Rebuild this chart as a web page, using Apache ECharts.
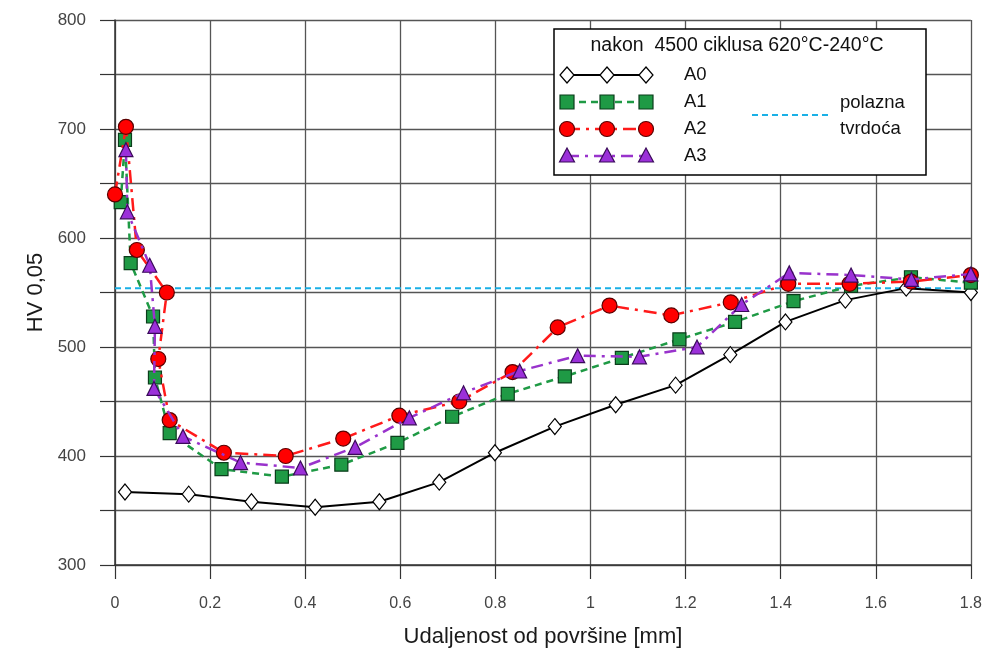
<!DOCTYPE html>
<html>
<head>
<meta charset="utf-8">
<script src="https://cdn.jsdelivr.net/npm/echarts@6/dist/echarts.min.js"></script>
<style>html,body{margin:0;padding:0;background:#fff}#c{width:985px;height:655px}</style>
</head>
<body>
<div id="c"></div>
<script>
var xA0 = [0.021, 0.155, 0.287, 0.421, 0.556, 0.682, 0.799, 0.925, 1.053, 1.179, 1.294, 1.41, 1.536, 1.664, 1.8];
var yA0 = [367, 365, 358, 353, 358, 376, 403, 427, 447, 465, 493, 523, 543, 554, 550];

var xA1 = [0.012, 0.021, 0.033, 0.080, 0.084, 0.115, 0.224, 0.351, 0.476, 0.594, 0.709, 0.826, 0.946, 1.066, 1.187, 1.304, 1.427, 1.548, 1.674, 1.8];
var yA1 = [633, 690, 577, 528, 472, 421, 388, 381, 392, 412, 436, 457, 473, 490, 507, 523, 542, 556, 564, 559];

var xA2 = [0.0, 0.023, 0.046, 0.109, 0.091, 0.115, 0.229, 0.359, 0.480, 0.598, 0.724, 0.836, 0.931, 1.040, 1.170, 1.295, 1.416, 1.545, 1.674, 1.8];
var yA2 = [640, 702, 589, 550, 489, 433, 403, 400, 416, 437, 450, 477, 518, 538, 529, 541, 558, 558, 560, 566];

var xA3 = [0.023, 0.026, 0.073, 0.084, 0.082, 0.143, 0.264, 0.390, 0.505, 0.619, 0.733, 0.851, 0.973, 1.103, 1.224, 1.318, 1.418, 1.548, 1.675, 1.8];
var yA3 = [681, 624, 575, 519, 462, 418, 394, 389, 408, 435, 458, 478, 492, 491, 500, 539, 568, 566, 562, 567];

var xBase = [0, 1.8];
var yBase = [554, 554];

var seriesNames = ['A0', 'A1', 'A2', 'A3'];
var legendTitle = 'nakon  4500 ciklusa 620°C-240°C';
var baseName = ['polazna', 'tvrdoća'];
var xAxisName = 'Udaljenost od površine [mm]';
var yAxisName = 'HV 0,05';

function pairs(xs, ys) { return xs.map(function (x, i) { return [x, ys[i]]; }); }

var FONT = '"Liberation Sans", Arial, sans-serif';
var styles = [
  {symbol: 'diamond', size: [13, 16], fill: '#ffffff', border: '#000000', line: '#000000', dash: 'solid', lw: 2},
  {symbol: 'rect', size: 13, fill: '#1f9a45', border: '#0b3d1b', line: '#1f9a45', dash: [7, 5], lw: 2.5},
  {symbol: 'circle', size: 15, fill: '#ff0000', border: '#5a0000', line: '#ff1a1a', dash: [13, 6, 3, 6], lw: 2.5},
  {symbol: 'triangle', size: 14, fill: '#9b30d9', border: '#3a0a5a', line: '#9933cc', dash: [12, 6, 3, 6], lw: 2.5}
];
var xs = [xA0, xA1, xA2, xA3], ys = [yA0, yA1, yA2, yA3];

var series = [{
  type: 'line', name: 'base', data: pairs(xBase, yBase), symbol: 'none',
  lineStyle: {color: '#19b0e6', width: 2, type: [6, 4]}, z: 1, silent: true
}];
for (var i = 0; i < 4; i++) {
  var s = styles[i];
  series.push({
    type: 'line', name: seriesNames[i], data: pairs(xs[i], ys[i]),
    symbol: s.symbol, symbolSize: s.size, showAllSymbol: true,
    itemStyle: {color: s.fill, borderColor: s.border, borderWidth: 1.2},
    lineStyle: {color: s.line, width: s.lw, type: s.dash},
    z: 2 + i
  });
}

// legend box drawn with graphic elements
var gx0 = 554, gy0 = 29, gw = 372, gh = 146;
var rowsY = [75, 102, 129, 156];
var mX = [567, 607, 646];
var graphics = [
  {type: 'rect', shape: {x: gx0, y: gy0, width: gw, height: gh}, style: {fill: '#fff', stroke: '#000', lineWidth: 1.5}, z: 100},
  {type: 'text', x: 737, y: 46, style: {text: legendTitle, font: '19.5px ' + FONT, fill: '#111', align: 'center', verticalAlign: 'middle'}, z: 101}
];
function markerShape(i, cx, cy) {
  var s = styles[i];
  var st = {fill: s.fill, stroke: s.border, lineWidth: 1.2};
  if (i === 0) return {type: 'polygon', shape: {points: [[cx, cy - 8], [cx + 7, cy], [cx, cy + 8], [cx - 7, cy]]}, style: st, z: 102};
  if (i === 1) return {type: 'rect', shape: {x: cx - 7, y: cy - 7, width: 14, height: 14}, style: st, z: 102};
  if (i === 2) return {type: 'circle', shape: {cx: cx, cy: cy, r: 7.5}, style: st, z: 102};
  return {type: 'polygon', shape: {points: [[cx, cy - 8], [cx + 7.5, cy + 6], [cx - 7.5, cy + 6]]}, style: st, z: 102};
}
for (var r = 0; r < 4; r++) {
  var s = styles[r];
  graphics.push({type: 'line', shape: {x1: mX[0], y1: rowsY[r], x2: mX[2], y2: rowsY[r]},
    style: {stroke: s.line, lineWidth: s.lw, lineDash: s.dash === 'solid' ? null : s.dash}, z: 101});
  for (var k = 0; k < 3; k++) graphics.push(markerShape(r, mX[k], rowsY[r]));
  graphics.push({type: 'text', x: 684, y: rowsY[r], style: {text: seriesNames[r], font: '18.5px ' + FONT, fill: '#111', verticalAlign: 'middle'}, z: 101});
}
graphics.push({type: 'line', shape: {x1: 752, y1: 115, x2: 828, y2: 115}, style: {stroke: '#19b0e6', lineWidth: 2, lineDash: [6, 4]}, z: 101});
graphics.push({type: 'text', x: 840, y: 103, style: {text: baseName[0], font: '18.5px ' + FONT, fill: '#111', verticalAlign: 'middle'}, z: 101});
graphics.push({type: 'text', x: 840, y: 129, style: {text: baseName[1], font: '18.5px ' + FONT, fill: '#111', verticalAlign: 'middle'}, z: 101});

var chart = echarts.init(document.getElementById('c'), null, {renderer: 'canvas'});
chart.setOption({
  animation: false,
  backgroundColor: '#ffffff',
  grid: {left: 115, right: 12, top: 20, bottom: 90, containLabel: false},
  xAxis: {
    type: 'value', min: 0, max: 1.8, interval: 0.2,
    name: xAxisName, nameLocation: 'middle', nameGap: 61,
    nameTextStyle: {fontFamily: FONT, fontSize: 22, color: '#1a1a1a'},
    axisLine: {show: true, onZero: false, lineStyle: {color: '#333', width: 1.5}},
    axisTick: {show: true, inside: false, length: 14, lineStyle: {color: '#333', width: 1.2}},
    axisLabel: {margin: 31, fontFamily: FONT, fontSize: 16, color: '#444'},
    splitLine: {show: true, lineStyle: {color: '#555', width: 1.3}}
  },
  yAxis: {
    type: 'value', min: 300, max: 800, interval: 50,
    name: yAxisName, nameLocation: 'middle', nameGap: 56,
    nameTextStyle: {fontFamily: FONT, fontSize: 22, color: '#1a1a1a'},
    axisLine: {show: true, onZero: false, lineStyle: {color: '#333', width: 1.5}},
    axisTick: {show: true, inside: false, length: 15, lineStyle: {color: '#333', width: 1.2}},
    axisLabel: {margin: 29, fontFamily: FONT, fontSize: 17, color: '#444',
      formatter: function (v) { return v % 100 === 0 ? String(v) : ''; }},
    splitLine: {show: true, lineStyle: {color: '#555', width: 1.3}}
  },
  series: series,
  graphic: graphics
});
</script>
</body>
</html>
